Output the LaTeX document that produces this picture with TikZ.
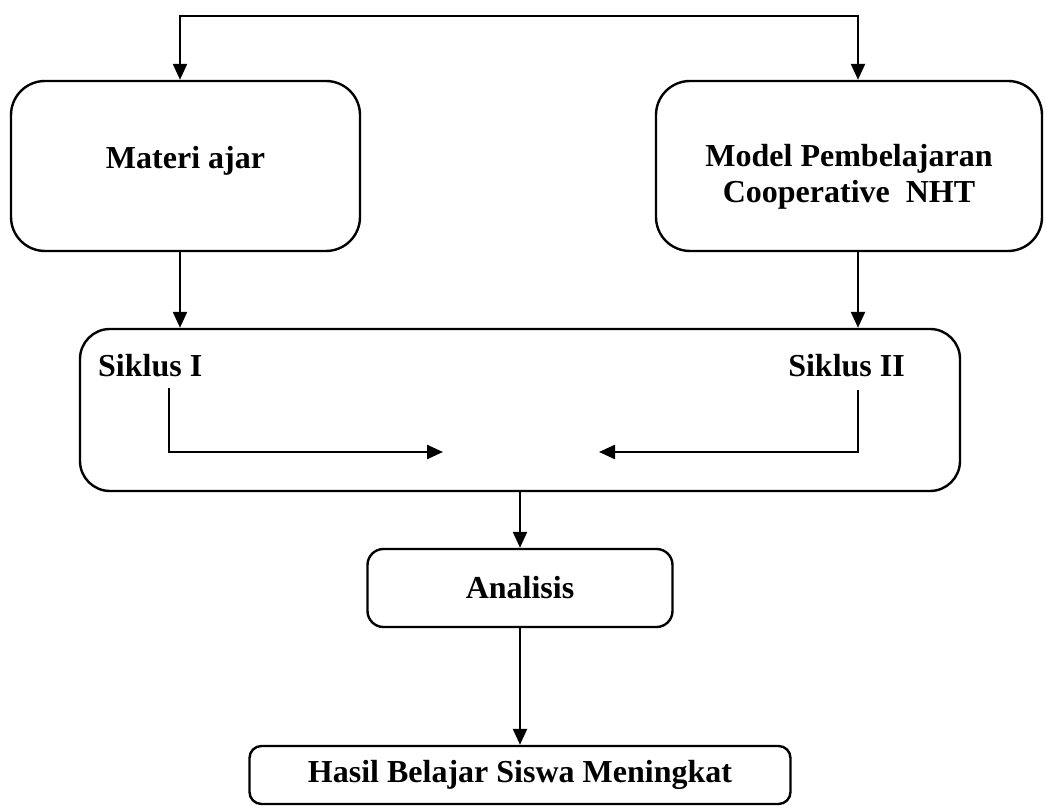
\documentclass[tikz,border=0pt]{standalone}
\usepackage{fontspec}
\setmainfont{Liberation Serif}
\usetikzlibrary{arrows.meta}

\begin{document}
\begin{tikzpicture}[x=0.5pt,y=-0.5pt,line width=1.2pt,
  >={Triangle[width=7pt,length=8pt]},
  box node/.style={draw,rounded corners=#1,inner sep=0pt,align=center,
    font=\fontsize{16}{18.5}\selectfont\bfseries},
  box node/.default=17pt,
  text node/.style={inner sep=0pt,align=center,font=\fontsize{16}{18}\selectfont\bfseries}]

  \useasboundingbox (0,0) rectangle (1046,806);

  \node[box node,minimum width=174.5pt,minimum height=85pt] (mat) at (185.5,166) {};
  \node[box node,minimum width=193pt,minimum height=85pt] (mod) at (849,166) {};
  \node[box node=15pt,minimum width=440pt,minimum height=81pt] (sik) at (520,410) {};
  \node[box node=8pt,minimum width=152.5pt,minimum height=39pt] (ana) at (520,588) {Analisis};
  \node[box node=6pt,minimum width=270.5pt,minimum height=29pt] (has) at (520,775) {Hasil Belajar Siswa Meningkat};

  \node[text node] (matt) at (185.5,161) {Materi ajar};
  \node[text node] (modt) at (849,177) {Model Pembelajaran\\Cooperative\ \ NHT};
  \node[text node,anchor=base west] (s1) at (97,377) {Siklus I};
  \node[text node,anchor=base east] (s2) at (906,377) {Siklus II};

  \coordinate (ltop) at (180,16);
  \coordinate (rtop) at (858,16);
  \coordinate (a1) at (169,388);
  \coordinate (a2) at (443,452);
  \coordinate (b1) at (858,390);
  \coordinate (b2) at (599,452);

  % garis atas ke kedua kotak
  \draw[<->] (ltop |- mat.north) -- (ltop) -- (rtop) -- (rtop |- mod.north);
  \draw[->] (ltop |- mat.south) -- (ltop |- sik.north);
  \draw[->] (rtop |- mod.south) -- (rtop |- sik.north);

  % siklus
  \draw[->] (a1) |- (a2);
  \draw[->] (b1) |- (b2);

  \draw[->] (sik.south) -- (ana.north);
  \draw[->] (ana.south) -- (has.north);

\end{tikzpicture}
\end{document}
